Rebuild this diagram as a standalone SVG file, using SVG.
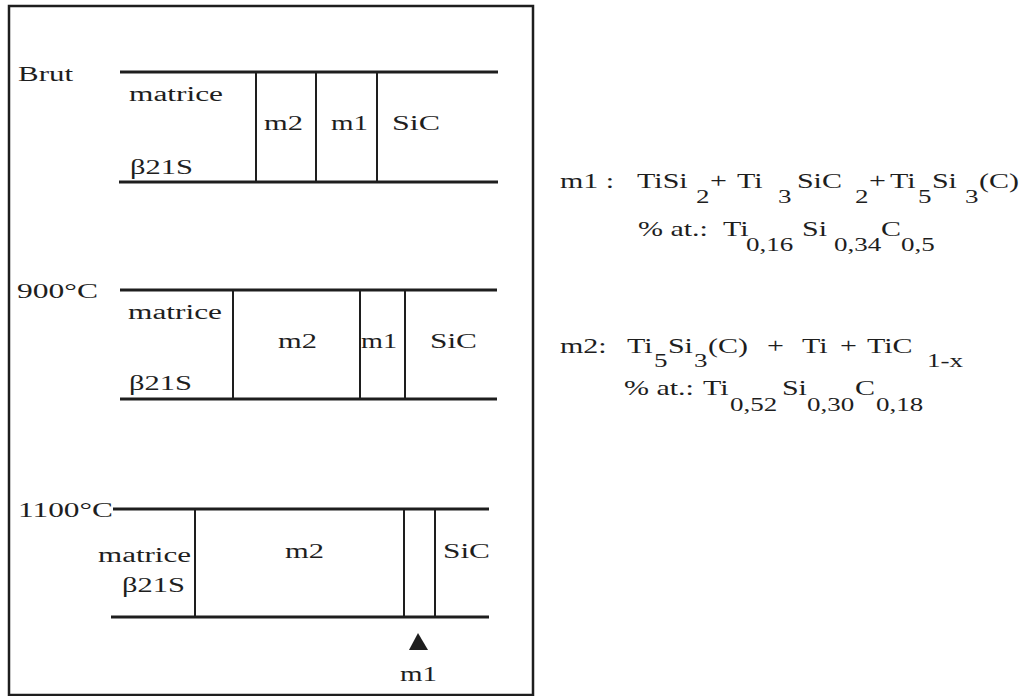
<svg xmlns="http://www.w3.org/2000/svg" width="1032" height="696" viewBox="0 0 1032 696">
<style>
.t{font-family:"Liberation Serif","Times New Roman",serif;font-size:20px;fill:#1e1e1e}
.s{font-size:18px}
.h{stroke:#1e1e1e;stroke-width:3;fill:none}
.v{stroke:#1e1e1e;stroke-width:2;fill:none}
</style>
<rect x="0" y="0" width="1032" height="696" fill="#ffffff"/>
<rect id="frame" x="9" y="6" width="524" height="689" fill="none" stroke="#1e1e1e" stroke-width="2.5"/>

<g id="brut">
<text class="t" x="18" y="81" textLength="55" lengthAdjust="spacingAndGlyphs">Brut</text>
<line class="h" x1="120" y1="72" x2="498" y2="72"/>
<line class="h" x1="119" y1="182" x2="498" y2="182"/>
<line class="v" x1="256" y1="72" x2="256" y2="182"/>
<line class="v" x1="316" y1="72" x2="316" y2="182"/>
<line class="v" x1="377" y1="72" x2="377" y2="182"/>
<text class="t" x="129" y="101" textLength="94" lengthAdjust="spacingAndGlyphs">matrice</text>
<text class="t" x="130" y="174" textLength="63" lengthAdjust="spacingAndGlyphs">β21S</text>
<text class="t" x="264" y="130" textLength="39" lengthAdjust="spacingAndGlyphs">m2</text>
<text class="t" x="331" y="130" textLength="37" lengthAdjust="spacingAndGlyphs">m1</text>
<text class="t" x="392" y="130" textLength="48" lengthAdjust="spacingAndGlyphs">SiC</text>
</g>

<g id="t900">
<text class="t" x="17" y="298" textLength="81" lengthAdjust="spacingAndGlyphs">900°C</text>
<line class="h" x1="120" y1="290" x2="497" y2="290"/>
<line class="h" x1="120" y1="399" x2="497" y2="399"/>
<line class="v" x1="233" y1="290" x2="233" y2="399"/>
<line class="v" x1="360" y1="290" x2="360" y2="399"/>
<line class="v" x1="405" y1="290" x2="405" y2="399"/>
<text class="t" x="128" y="319" textLength="94" lengthAdjust="spacingAndGlyphs">matrice</text>
<text class="t" x="129" y="390" textLength="63" lengthAdjust="spacingAndGlyphs">β21S</text>
<text class="t" x="278" y="348" textLength="39" lengthAdjust="spacingAndGlyphs">m2</text>
<text class="t" x="361" y="348" textLength="36" lengthAdjust="spacingAndGlyphs">m1</text>
<text class="t" x="430" y="348" textLength="47" lengthAdjust="spacingAndGlyphs">SiC</text>
</g>

<g id="t1100">
<text class="t" x="18" y="517" textLength="95" lengthAdjust="spacingAndGlyphs">1100°C</text>
<line class="h" x1="113" y1="509" x2="489" y2="509"/>
<line class="h" x1="111" y1="617" x2="489" y2="617"/>
<line class="v" x1="195" y1="509" x2="195" y2="617"/>
<line class="v" x1="404" y1="509" x2="404" y2="617"/>
<line class="v" x1="435" y1="509" x2="435" y2="617"/>
<text class="t" x="98" y="562" textLength="93" lengthAdjust="spacingAndGlyphs">matrice</text>
<text class="t" x="122" y="592" textLength="63" lengthAdjust="spacingAndGlyphs">β21S</text>
<text class="t" x="285" y="558" textLength="39" lengthAdjust="spacingAndGlyphs">m2</text>
<text class="t" x="443" y="558" textLength="47" lengthAdjust="spacingAndGlyphs">SiC</text>
<text class="t" x="400" y="681" textLength="37" lengthAdjust="spacingAndGlyphs">m1</text>
</g>

<g id="connectors">
<polygon points="418,633 409,650 428,650" fill="#1e1e1e"/>
</g>

<g id="legend" transform="scale(1.5 1)">
<text class="t">
<tspan x="373.3" y="188">m1 :</tspan><tspan x="424.7" y="188">TiSi</tspan><tspan class="s" x="464" y="203">2</tspan><tspan x="473.3" y="188">+</tspan><tspan x="491.3" y="188">Ti</tspan><tspan class="s" x="518.7" y="203">3</tspan><tspan x="531.3" y="188">SiC</tspan><tspan class="s" x="570" y="203">2</tspan><tspan x="579.3" y="188">+</tspan><tspan x="593.3" y="188">Ti</tspan><tspan class="s" x="612" y="203">5</tspan><tspan x="621.3" y="188">Si</tspan><tspan class="s" x="643.3" y="203">3</tspan><tspan x="652.7" y="188">(C)</tspan>
</text>
<text class="t">
<tspan x="425.3" y="236">% at.:</tspan><tspan x="482" y="236">Ti</tspan><tspan class="s" x="497.3" y="251">0,16</tspan><tspan x="534.7" y="236">Si</tspan><tspan class="s" x="556" y="251">0,34</tspan><tspan x="587.3" y="236">C</tspan><tspan class="s" x="600.7" y="251">0,5</tspan>
</text>
<text class="t">
<tspan x="373.3" y="353">m2:</tspan><tspan x="418" y="353">Ti</tspan><tspan class="s" x="436" y="367">5</tspan><tspan x="445.3" y="353">Si</tspan><tspan class="s" x="462.7" y="367">3</tspan><tspan x="472" y="353">(C)</tspan><tspan x="511.3" y="353">+</tspan><tspan x="534.7" y="353">Ti</tspan><tspan x="560" y="353">+</tspan><tspan x="578" y="353">TiC</tspan><tspan class="s" x="618" y="367">1-x</tspan>
</text>
<text class="t">
<tspan x="416" y="395">% at.:</tspan><tspan x="468.7" y="395">Ti</tspan><tspan class="s" x="486.7" y="411">0,52</tspan><tspan x="521.3" y="395">Si</tspan><tspan class="s" x="538" y="411">0,30</tspan><tspan x="570" y="395">C</tspan><tspan class="s" x="584" y="411">0,18</tspan>
</text>
</g>
</svg>
